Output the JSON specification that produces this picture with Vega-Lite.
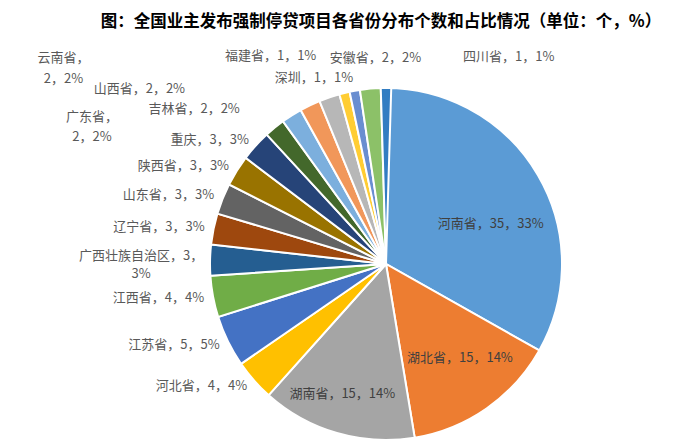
{
  "$schema": "https://vega.github.io/schema/vega-lite/v6.json",
  "width": 588,
  "height": 352,
  "autosize": {"type": "none"},
  "padding": {"left": 92, "top": 88, "right": 0, "bottom": 4},
  "background": "white",
  "config": {"view": {"stroke": null}},
  "title": {
    "text": "图：全国业主发布强制停贷项目各省份分布个数和占比情况（单位：个，%）",
    "font": "Noto Sans CJK SC",
    "fontSize": 16.5,
    "fontWeight": "bold",
    "color": "#000000",
    "anchor": "middle",
    "frame": "group",
    "offset": 4,
    "baseline": "bottom",
    "dx": -5
  },
  "data": {
    "values": [
      {"idx": 1, "name": "河南省", "count": 35, "label": "河南省，35，33%"},
      {"idx": 2, "name": "湖北省", "count": 15, "label": "湖北省，15，14%"},
      {"idx": 3, "name": "湖南省", "count": 15, "label": "湖南省，15，14%"},
      {"idx": 4, "name": "河北省", "count": 4, "label": "河北省，4，4%"},
      {"idx": 5, "name": "江苏省", "count": 5, "label": "江苏省，5，5%"},
      {"idx": 6, "name": "江西省", "count": 4, "label": "江西省，4，4%"},
      {"idx": 7, "name": "广西壮族自治区", "count": 3, "label": "广西壮族自治区，3，\n3%"},
      {"idx": 8, "name": "辽宁省", "count": 3, "label": "辽宁省，3，3%"},
      {"idx": 9, "name": "山东省", "count": 3, "label": "山东省，3，3%"},
      {"idx": 10, "name": "陕西省", "count": 3, "label": "陕西省，3，3%"},
      {"idx": 11, "name": "重庆", "count": 3, "label": "重庆，3，3%"},
      {"idx": 12, "name": "广东省", "count": 2, "label": "广东省，\n2，2%"},
      {"idx": 13, "name": "吉林省", "count": 2, "label": "吉林省，2，2%"},
      {"idx": 14, "name": "山西省", "count": 2, "label": "山西省，2，2%"},
      {"idx": 15, "name": "云南省", "count": 2, "label": "云南省，\n2，2%"},
      {"idx": 16, "name": "福建省", "count": 1, "label": "福建省，1，1%"},
      {"idx": 17, "name": "深圳", "count": 1, "label": "深圳，1，1%"},
      {"idx": 18, "name": "安徽省", "count": 2, "label": "安徽省，2，2%"},
      {"idx": 19, "name": "四川省", "count": 1, "label": "四川省，1，1%"}
    ]
  },
  "transform": [
    {"stack": "count", "groupby": [], "sort": [{"field": "idx", "order": "ascending"}], "as": ["s0", "s1"]},
    {"calculate": "(datum.s0 + datum.s1) / 2", "as": "mid"}
  ],
  "layer": [
    {
      "mark": {"type": "arc", "stroke": "white", "strokeWidth": 2},
      "encoding": {
        "theta": {"field": "s0", "type": "quantitative", "stack": null, "scale": {"zero": true}},
        "theta2": {"field": "s1"},
        "color": {
          "field": "name",
          "type": "nominal",
          "legend": null,
          "scale": {
            "domain": ["河南省", "湖北省", "湖南省", "河北省", "江苏省", "江西省", "广西壮族自治区", "辽宁省", "山东省", "陕西省", "重庆", "广东省", "吉林省", "山西省", "云南省", "福建省", "深圳", "安徽省", "四川省"],
            "range": ["#5B9BD5", "#ED7D31", "#A5A5A5", "#FFC000", "#4472C4", "#70AD47", "#255E91", "#9E480E", "#636363", "#997300", "#264478", "#43682B", "#7CAFDD", "#F1975A", "#B7B7B7", "#FFCD33", "#698ED0", "#8CC168", "#327DC2"]
          }
        }
      }
    },
    {
      "transform": [{"filter": "datum.name === '河南省'"}],
      "mark": {"type": "text", "radius": 112, "font": "Noto Sans CJK SC", "fontSize": 13, "fill": "#404040", "baseline": "middle", "align": "center", "dx": 8, "dy": 16},
      "encoding": {"theta": {"field": "mid", "type": "quantitative", "stack": null}, "text": {"field": "label"}}
    },
    {
      "transform": [{"filter": "datum.name === '湖北省'"}],
      "mark": {"type": "text", "radius": 115, "font": "Noto Sans CJK SC", "fontSize": 13, "fill": "#404040", "baseline": "middle", "align": "center", "dx": 8},
      "encoding": {"theta": {"field": "mid", "type": "quantitative", "stack": null}, "text": {"field": "label"}}
    },
    {
      "transform": [{"filter": "datum.name === '湖南省'"}],
      "mark": {"type": "text", "radius": 135, "font": "Noto Sans CJK SC", "fontSize": 13, "fill": "#404040", "baseline": "middle", "align": "center", "dx": -6},
      "encoding": {"theta": {"field": "mid", "type": "quantitative", "stack": null}, "text": {"field": "label"}}
    },
    {
      "transform": [{"filter": {"field": "name", "oneOf": ["河北省", "江苏省", "江西省", "辽宁省", "山东省", "陕西省", "重庆"]}}],
      "mark": {"type": "text", "radius": 185, "font": "Noto Sans CJK SC", "fontSize": 13, "fill": "#595959", "baseline": "middle", "align": "right"},
      "encoding": {"theta": {"field": "mid", "type": "quantitative", "stack": null}, "text": {"field": "label"}}
    },
    {
      "transform": [{"filter": "datum.name === '广西壮族自治区'"}],
      "mark": {"type": "text", "radius": 185, "font": "Noto Sans CJK SC", "fontSize": 13, "fill": "#595959", "baseline": "middle", "align": "center", "lineBreak": "\n", "lineHeight": 18, "dx": -60, "dy": -4},
      "encoding": {"theta": {"field": "mid", "type": "quantitative", "stack": null}, "text": {"field": "label"}}
    },
    {
      "transform": [{"filter": "datum.name === '广东省'"}],
      "mark": {"type": "text", "radius": 185, "font": "Noto Sans CJK SC", "fontSize": 13, "fill": "#595959", "baseline": "middle", "align": "center", "lineBreak": "\n", "lineHeight": 20, "dx": -177, "dy": -4},
      "encoding": {"theta": {"field": "mid", "type": "quantitative", "stack": null}, "text": {"field": "label"}}
    },
    {
      "transform": [{"filter": "datum.name === '吉林省'"}],
      "mark": {"type": "text", "radius": 185, "font": "Noto Sans CJK SC", "fontSize": 13, "fill": "#595959", "baseline": "middle", "align": "right", "dx": -47, "dy": 1},
      "encoding": {"theta": {"field": "mid", "type": "quantitative", "stack": null}, "text": {"field": "label"}}
    },
    {
      "transform": [{"filter": "datum.name === '山西省'"}],
      "mark": {"type": "text", "radius": 185, "font": "Noto Sans CJK SC", "fontSize": 13, "fill": "#595959", "baseline": "middle", "align": "right", "dx": -121, "dy": -8},
      "encoding": {"theta": {"field": "mid", "type": "quantitative", "stack": null}, "text": {"field": "label"}}
    },
    {
      "transform": [{"filter": "datum.name === '云南省'"}],
      "mark": {"type": "text", "radius": 185, "font": "Noto Sans CJK SC", "fontSize": 13, "fill": "#595959", "baseline": "middle", "align": "center", "lineBreak": "\n", "lineHeight": 21, "dx": -263, "dy": -31},
      "encoding": {"theta": {"field": "mid", "type": "quantitative", "stack": null}, "text": {"field": "label"}}
    },
    {
      "transform": [{"filter": "datum.name === '福建省'"}],
      "mark": {"type": "text", "radius": 185, "font": "Noto Sans CJK SC", "fontSize": 13, "fill": "#595959", "baseline": "middle", "align": "right", "dx": -26, "dy": -28},
      "encoding": {"theta": {"field": "mid", "type": "quantitative", "stack": null}, "text": {"field": "label"}}
    },
    {
      "transform": [{"filter": "datum.name === '深圳'"}],
      "mark": {"type": "text", "radius": 185, "font": "Noto Sans CJK SC", "fontSize": 13, "fill": "#595959", "baseline": "middle", "align": "right", "dx": 0, "dy": -4},
      "encoding": {"theta": {"field": "mid", "type": "quantitative", "stack": null}, "text": {"field": "label"}}
    },
    {
      "transform": [{"filter": "datum.name === '安徽省'"}],
      "mark": {"type": "text", "radius": 185, "font": "Noto Sans CJK SC", "fontSize": 13, "fill": "#595959", "baseline": "middle", "align": "center", "dx": 6, "dy": -22},
      "encoding": {"theta": {"field": "mid", "type": "quantitative", "stack": null}, "text": {"field": "label"}}
    },
    {
      "transform": [{"filter": "datum.name === '四川省'"}],
      "mark": {"type": "text", "radius": 185, "font": "Noto Sans CJK SC", "fontSize": 13, "fill": "#595959", "baseline": "middle", "align": "left", "dx": 77, "dy": -22},
      "encoding": {"theta": {"field": "mid", "type": "quantitative", "stack": null}, "text": {"field": "label"}}
    }
  ]
}
